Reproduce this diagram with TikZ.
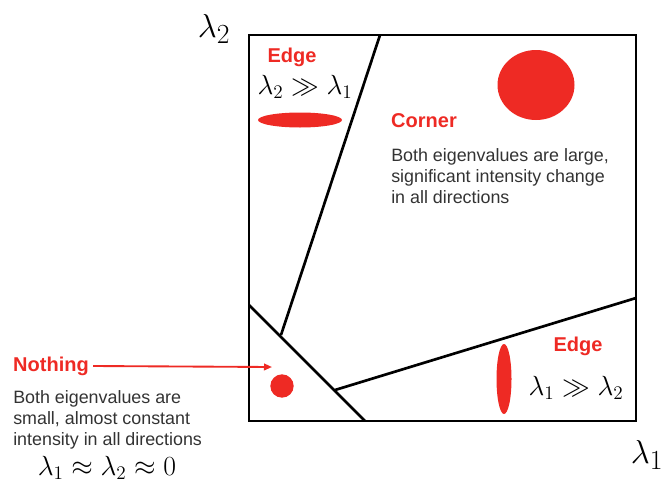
\documentclass[tikz,border=0pt]{standalone}
\usepackage{fontspec}
\setmainfont{Liberation Sans}
\usepackage{amsmath}
\usepackage{amssymb}
\usetikzlibrary{arrows.meta,positioning}
\definecolor{colorBlob}{HTML}{EE2A24}
\colorlet{colorNote}{black!80}
\tikzset{
   every path/.style={>=Stealth},
   region/.style={draw=black, line width=2pt},
   blob/.style={fill=colorBlob, draw=none},
   kind/.style={text=colorBlob, font=\fontsize{15}{18}\selectfont\bfseries, inner sep=0pt},
   note/.style={text=colorNote, font=\fontsize{13.4}{15.8}\selectfont, align=left, inner sep=0pt, anchor=west},
   rel/.style={font=\fontsize{21}{25}\selectfont, inner sep=0pt},
   axis/.style={font=\fontsize{28}{32}\selectfont, inner sep=0pt},
   pointer/.style={->, draw=colorBlob, line width=1.4pt, -{Triangle[length=6pt,width=5pt]}},
}

\begin{document}
\begin{tikzpicture}[x=0.75pt, y=-0.75pt]
\useasboundingbox (0,0) rectangle (666,482);
% the lambda plane
\coordinate (nw) at (249,35);
\coordinate (ne) at (636,35);
\coordinate (se) at (636,421);
\coordinate (sw) at (249,421);
\draw[region] (nw) -- (ne) -- (se) -- (sw) -- cycle;
\coordinate (vtop) at (380,35);
\coordinate (vbot) at (281,335);
\coordinate (dtop) at (249,305);
\coordinate (dbot) at (365,421);
\coordinate (hleft) at (335,390);
\coordinate (hright) at (636,298);
\draw[region] (vtop) -- (vbot);
\draw[region] (dtop) -- (dbot);
\draw[region] (hleft) -- (hright);

\node[axis] (l2) at (214,29) {$\lambda_2$};
\node[axis] (l1) at (647,455) {$\lambda_1$};

% corner
\fill[blob] (536,85) ellipse [x radius=38.5, y radius=35];
\node[kind] (corner) at (424,121) {Corner};
\node[note] (cornernote) at (391,176) {Both eigenvalues are large,\\significant intensity change\\in all directions};

% edges
\fill[blob] (300,120) ellipse [x radius=42, y radius=7.5];
\node[kind] (edgeA) at (292,57) {Edge};
\node[rel] (relA) at (305,87) {$\lambda_2 \gg \lambda_1$};
\fill[blob] (504,379) ellipse [x radius=7.5, y radius=35];
\node[kind] (edgeB) at (578,346) {Edge};
\node[rel] (relB) at (576,388) {$\lambda_1 \gg \lambda_2$};

% flat
\node[circle, blob, minimum size=17.5pt, inner sep=0pt] (dot) at (282,386) {};
\coordinate (aim) at (272,367);
\node[kind] (nothing) at (51,366) {Nothing};
\draw[pointer] (nothing.east) ++(4,0) -- (aim);
\node[note] (nothingnote) at (13,420) {Both eigenvalues are\\small, almost constant\\intensity in all directions};
\node[rel] (relC) at (107,468) {$\lambda_1 \approx \lambda_2 \approx 0$};
\end{tikzpicture}
\end{document}
